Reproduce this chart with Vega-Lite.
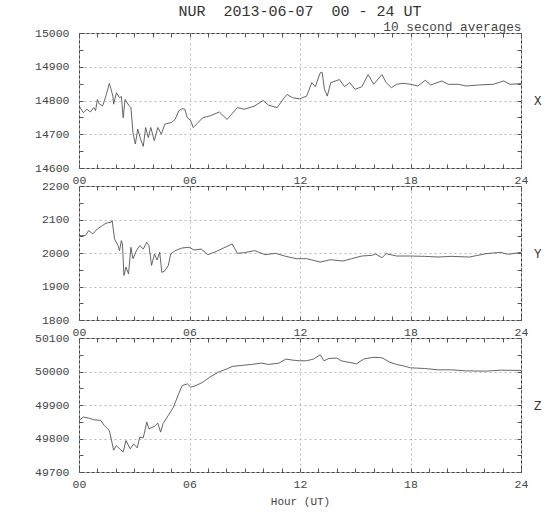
{
  "$schema": "https://vega.github.io/schema/vega-lite/v6.json",
  "background": "white",
  "padding": {"left": 33, "top": 4, "right": 4, "bottom": 5},
  "title": {"text": "NUR\u00a0\u00a02013-06-07\u00a0\u00a000 - 24 UT", "font": "Liberation Mono", "fontSize": 15, "fontWeight": "normal", "color": "#333", "offset": 1, "anchor": "middle", "frame": "group"},
  "datasets": {
    "X": [
      {"h": 0, "v": 14784}, {"h": 0.24, "v": 14764}, {"h": 0.43, "v": 14774}, {"h": 0.62, "v": 14766}, {"h": 0.8, "v": 14779},
      {"h": 0.9, "v": 14770}, {"h": 1.0, "v": 14803}, {"h": 1.1, "v": 14790}, {"h": 1.28, "v": 14784}, {"h": 1.46, "v": 14813},
      {"h": 1.65, "v": 14851}, {"h": 1.84, "v": 14813}, {"h": 1.88, "v": 14789}, {"h": 2.03, "v": 14823}, {"h": 2.2, "v": 14808},
      {"h": 2.3, "v": 14812}, {"h": 2.4, "v": 14749}, {"h": 2.5, "v": 14803}, {"h": 2.7, "v": 14786}, {"h": 2.82, "v": 14779},
      {"h": 2.93, "v": 14705}, {"h": 3.06, "v": 14671}, {"h": 3.19, "v": 14715}, {"h": 3.34, "v": 14686}, {"h": 3.49, "v": 14664},
      {"h": 3.62, "v": 14720}, {"h": 3.76, "v": 14690}, {"h": 3.9, "v": 14720}, {"h": 4.09, "v": 14681}, {"h": 4.28, "v": 14720},
      {"h": 4.47, "v": 14700}, {"h": 4.66, "v": 14730}, {"h": 5.03, "v": 14735}, {"h": 5.22, "v": 14744}, {"h": 5.41, "v": 14769},
      {"h": 5.6, "v": 14776}, {"h": 5.75, "v": 14774}, {"h": 5.88, "v": 14749}, {"h": 6.07, "v": 14740}, {"h": 6.2, "v": 14720},
      {"h": 6.44, "v": 14733}, {"h": 6.72, "v": 14749}, {"h": 7.1, "v": 14754}, {"h": 7.62, "v": 14766}, {"h": 8.04, "v": 14744},
      {"h": 8.6, "v": 14779}, {"h": 8.98, "v": 14774}, {"h": 9.54, "v": 14784}, {"h": 10.0, "v": 14800}, {"h": 10.29, "v": 14786},
      {"h": 10.76, "v": 14779}, {"h": 11.14, "v": 14808}, {"h": 11.3, "v": 14818}, {"h": 11.6, "v": 14808}, {"h": 11.98, "v": 14805},
      {"h": 12.36, "v": 14813}, {"h": 12.64, "v": 14853}, {"h": 12.83, "v": 14841}, {"h": 13.1, "v": 14882}, {"h": 13.2, "v": 14884},
      {"h": 13.33, "v": 14833}, {"h": 13.48, "v": 14813}, {"h": 13.67, "v": 14853}, {"h": 14.14, "v": 14862}, {"h": 14.42, "v": 14841},
      {"h": 14.7, "v": 14853}, {"h": 14.99, "v": 14833}, {"h": 15.36, "v": 14841}, {"h": 15.7, "v": 14877}, {"h": 16.0, "v": 14848},
      {"h": 16.45, "v": 14877}, {"h": 16.68, "v": 14853}, {"h": 16.96, "v": 14838}, {"h": 17.24, "v": 14848}, {"h": 17.6, "v": 14851},
      {"h": 18.0, "v": 14848}, {"h": 18.4, "v": 14843}, {"h": 18.8, "v": 14860}, {"h": 19.1, "v": 14846}, {"h": 19.7, "v": 14858},
      {"h": 20.05, "v": 14848}, {"h": 20.6, "v": 14848}, {"h": 21.0, "v": 14843}, {"h": 21.7, "v": 14846}, {"h": 22.5, "v": 14848},
      {"h": 23.06, "v": 14858}, {"h": 23.4, "v": 14848}, {"h": 24, "v": 14850}
    ],
    "Y": [
      {"h": 0, "v": 2052}, {"h": 0.34, "v": 2052}, {"h": 0.53, "v": 2067}, {"h": 0.75, "v": 2057}, {"h": 1.0, "v": 2072},
      {"h": 1.28, "v": 2082}, {"h": 1.46, "v": 2089}, {"h": 1.75, "v": 2092}, {"h": 1.8, "v": 2097}, {"h": 1.93, "v": 2042},
      {"h": 2.12, "v": 2022}, {"h": 2.2, "v": 2007}, {"h": 2.3, "v": 2037}, {"h": 2.36, "v": 2027}, {"h": 2.44, "v": 1933},
      {"h": 2.55, "v": 1958}, {"h": 2.69, "v": 1938}, {"h": 2.82, "v": 2017}, {"h": 2.93, "v": 1983}, {"h": 3.12, "v": 2007},
      {"h": 3.3, "v": 2022}, {"h": 3.49, "v": 2012}, {"h": 3.68, "v": 2032}, {"h": 3.8, "v": 2022}, {"h": 3.94, "v": 1963},
      {"h": 4.1, "v": 1997}, {"h": 4.24, "v": 1979}, {"h": 4.38, "v": 2002}, {"h": 4.5, "v": 1942}, {"h": 4.66, "v": 1947},
      {"h": 4.85, "v": 1963}, {"h": 4.98, "v": 1997}, {"h": 5.22, "v": 2007}, {"h": 5.6, "v": 2015}, {"h": 5.97, "v": 2017},
      {"h": 6.25, "v": 2009}, {"h": 6.63, "v": 2012}, {"h": 7.0, "v": 1995}, {"h": 7.47, "v": 2005}, {"h": 7.85, "v": 2015},
      {"h": 8.32, "v": 2027}, {"h": 8.6, "v": 1999}, {"h": 8.98, "v": 2001}, {"h": 9.54, "v": 2007}, {"h": 10.1, "v": 1995},
      {"h": 10.67, "v": 1999}, {"h": 11.23, "v": 1990}, {"h": 11.8, "v": 1983}, {"h": 12.36, "v": 1983}, {"h": 13.1, "v": 1973},
      {"h": 13.67, "v": 1980}, {"h": 14.33, "v": 1976}, {"h": 14.8, "v": 1983}, {"h": 15.36, "v": 1991}, {"h": 15.9, "v": 1993},
      {"h": 16.1, "v": 1997}, {"h": 16.45, "v": 1986}, {"h": 16.68, "v": 1998}, {"h": 17.24, "v": 1991}, {"h": 18.0, "v": 1991},
      {"h": 18.75, "v": 1990}, {"h": 19.5, "v": 1988}, {"h": 20.2, "v": 1990}, {"h": 21.2, "v": 1988}, {"h": 22.1, "v": 1998},
      {"h": 22.9, "v": 2002}, {"h": 23.3, "v": 1996}, {"h": 24, "v": 2002}
    ],
    "Z": [
      {"h": 0, "v": 49854}, {"h": 0.24, "v": 49864}, {"h": 0.53, "v": 49861}, {"h": 0.8, "v": 49856}, {"h": 1.18, "v": 49854},
      {"h": 1.37, "v": 49839}, {"h": 1.65, "v": 49824}, {"h": 1.88, "v": 49765}, {"h": 2.03, "v": 49779}, {"h": 2.2, "v": 49769},
      {"h": 2.4, "v": 49760}, {"h": 2.55, "v": 49794}, {"h": 2.78, "v": 49769}, {"h": 2.97, "v": 49784}, {"h": 3.16, "v": 49772},
      {"h": 3.3, "v": 49804}, {"h": 3.49, "v": 49802}, {"h": 3.68, "v": 49849}, {"h": 3.8, "v": 49829}, {"h": 4.09, "v": 49836},
      {"h": 4.28, "v": 49846}, {"h": 4.43, "v": 49819}, {"h": 4.56, "v": 49844}, {"h": 4.85, "v": 49869}, {"h": 5.13, "v": 49894},
      {"h": 5.41, "v": 49933}, {"h": 5.6, "v": 49958}, {"h": 5.88, "v": 49963}, {"h": 6.07, "v": 49953}, {"h": 6.35, "v": 49958},
      {"h": 6.72, "v": 49968}, {"h": 7.1, "v": 49983}, {"h": 7.57, "v": 49998}, {"h": 8.04, "v": 50008}, {"h": 8.32, "v": 50015},
      {"h": 8.79, "v": 50018}, {"h": 9.35, "v": 50021}, {"h": 9.92, "v": 50025}, {"h": 10.29, "v": 50021}, {"h": 10.85, "v": 50025},
      {"h": 11.23, "v": 50037}, {"h": 11.6, "v": 50034}, {"h": 11.98, "v": 50032}, {"h": 12.36, "v": 50032}, {"h": 12.73, "v": 50037},
      {"h": 13.1, "v": 50050}, {"h": 13.3, "v": 50032}, {"h": 13.58, "v": 50039}, {"h": 14.0, "v": 50040}, {"h": 14.23, "v": 50032},
      {"h": 14.6, "v": 50028}, {"h": 15.08, "v": 50023}, {"h": 15.45, "v": 50037}, {"h": 15.92, "v": 50042}, {"h": 16.3, "v": 50042},
      {"h": 16.49, "v": 50040}, {"h": 16.86, "v": 50028}, {"h": 17.24, "v": 50021}, {"h": 17.6, "v": 50017}, {"h": 18.0, "v": 50011},
      {"h": 18.75, "v": 50009}, {"h": 19.5, "v": 50005}, {"h": 20.2, "v": 50005}, {"h": 21.0, "v": 50002}, {"h": 22.1, "v": 50001},
      {"h": 22.9, "v": 50004}, {"h": 24, "v": 50003}
    ]
  },
  "vconcat": [
    {
      "width": 442, "height": 135,
      "data": {"name": "X"},
      "layer": [
        {
          "mark": {"type": "line", "color": "#555", "strokeWidth": 0.9},
          "encoding": {
            "x": {"field": "h", "type": "quantitative", "scale": {"domain": [0, 24], "nice": false},
              "axis": {"orient": "bottom", "title": null, "values": [0,1,2,3,4,5,6,7,8,9,10,11,12,13,14,15,16,17,18,19,20,21,22,23,24],
                "labelExpr": "datum.value % 6 == 0 ? (datum.value < 10 ? '0' + datum.value : '' + datum.value) : ''",
                "gridOpacity": {"condition": {"test": "datum.value % 6 == 0", "value": 1}, "value": 0}}},
            "y": {"field": "v", "type": "quantitative", "scale": {"domain": [14600, 15000], "nice": false, "zero": false},
              "axis": {"orient": "left", "title": null, "format": "d", "values": [14600,14650,14700,14750,14800,14850,14900,14950,15000],
                "labelExpr": "datum.value % 100 == 0 ? datum.label : ''",
                "gridOpacity": {"condition": {"test": "datum.value % 100 == 0", "value": 1}, "value": 0}}}
          }
        },
        {
          "mark": {"type": "line", "opacity": 0},
          "encoding": {
            "x": {"field": "h", "type": "quantitative",
              "axis": {"orient": "top", "title": "10 second averages", "titleAnchor": "end", "titleAlign": "right", "titleBaseline": "bottom", "titlePadding": -1, "titleFontSize": 12.8, "titleFont": "Liberation Mono", "titleFontWeight": "normal", "titleColor": "#444",
                "labels": false, "grid": false, "values": [0,1,2,3,4,5,6,7,8,9,10,11,12,13,14,15,16,17,18,19,20,21,22,23,24]}},
            "y": {"field": "v", "type": "quantitative",
              "axis": {"orient": "right", "title": "X", "labels": false, "grid": false, "values": [14600,14650,14700,14750,14800,14850,14900,14950,15000]}}
          }
        }
      ],
      "resolve": {"axis": {"x": "independent", "y": "independent"}}
    },
    {
      "width": 442, "height": 134,
      "data": {"name": "Y"},
      "layer": [
        {
          "mark": {"type": "line", "color": "#555", "strokeWidth": 0.9},
          "encoding": {
            "x": {"field": "h", "type": "quantitative", "scale": {"domain": [0, 24], "nice": false},
              "axis": {"orient": "bottom", "title": null, "values": [0,1,2,3,4,5,6,7,8,9,10,11,12,13,14,15,16,17,18,19,20,21,22,23,24],
                "labelExpr": "datum.value % 6 == 0 ? (datum.value < 10 ? '0' + datum.value : '' + datum.value) : ''",
                "gridOpacity": {"condition": {"test": "datum.value % 6 == 0", "value": 1}, "value": 0}}},
            "y": {"field": "v", "type": "quantitative", "scale": {"domain": [1800, 2200], "nice": false, "zero": false},
              "axis": {"orient": "left", "title": null, "format": "d", "values": [1800,1850,1900,1950,2000,2050,2100,2150,2200],
                "labelExpr": "datum.value % 100 == 0 ? datum.label : ''",
                "gridOpacity": {"condition": {"test": "datum.value % 100 == 0", "value": 1}, "value": 0}}}
          }
        },
        {
          "mark": {"type": "line", "opacity": 0},
          "encoding": {
            "x": {"field": "h", "type": "quantitative",
              "axis": {"orient": "top", "title": null, "labels": false, "grid": false, "values": [0,1,2,3,4,5,6,7,8,9,10,11,12,13,14,15,16,17,18,19,20,21,22,23,24]}},
            "y": {"field": "v", "type": "quantitative",
              "axis": {"orient": "right", "title": "Y", "labels": false, "grid": false, "values": [1800,1850,1900,1950,2000,2050,2100,2150,2200]}}
          }
        }
      ],
      "resolve": {"axis": {"x": "independent", "y": "independent"}}
    },
    {
      "width": 442, "height": 134,
      "data": {"name": "Z"},
      "layer": [
        {
          "mark": {"type": "line", "color": "#555", "strokeWidth": 0.9},
          "encoding": {
            "x": {"field": "h", "type": "quantitative", "scale": {"domain": [0, 24], "nice": false},
              "axis": {"orient": "bottom", "title": "Hour (UT)", "values": [0,1,2,3,4,5,6,7,8,9,10,11,12,13,14,15,16,17,18,19,20,21,22,23,24],
                "labelExpr": "datum.value % 6 == 0 ? (datum.value < 10 ? '0' + datum.value : '' + datum.value) : ''",
                "gridOpacity": {"condition": {"test": "datum.value % 6 == 0", "value": 1}, "value": 0}}},
            "y": {"field": "v", "type": "quantitative", "scale": {"domain": [49700, 50100], "nice": false, "zero": false},
              "axis": {"orient": "left", "title": null, "format": "d", "values": [49700,49750,49800,49850,49900,49950,50000,50050,50100],
                "labelExpr": "datum.value % 100 == 0 ? datum.label : ''",
                "gridOpacity": {"condition": {"test": "datum.value % 100 == 0", "value": 1}, "value": 0}}}
          }
        },
        {
          "mark": {"type": "line", "opacity": 0},
          "encoding": {
            "x": {"field": "h", "type": "quantitative",
              "axis": {"orient": "top", "title": null, "labels": false, "grid": false, "values": [0,1,2,3,4,5,6,7,8,9,10,11,12,13,14,15,16,17,18,19,20,21,22,23,24]}},
            "y": {"field": "v", "type": "quantitative",
              "axis": {"orient": "right", "title": "Z", "labels": false, "grid": false, "values": [49700,49750,49800,49850,49900,49950,50000,50050,50100]}}
          }
        }
      ],
      "resolve": {"axis": {"x": "independent", "y": "independent"}}
    }
  ],
  "spacing": 18,
  "bounds": "flush",
  "config": {
    "view": {"stroke": "#444", "strokeWidth": 1},
    "style": {
      "guide-label": {"font": "Liberation Mono"},
      "guide-title": {"font": "Liberation Mono"},
      "group-title": {"font": "Liberation Mono"}
    },
    "axis": {
      "domain": false, "ticks": true, "tickSize": -4, "tickColor": "#555", "tickWidth": 1,
      "grid": true, "gridColor": "#bbb", "gridDash": [2, 3], "gridWidth": 1,
      "labelFont": "Liberation Mono", "labelFontSize": 11.5, "labelColor": "#444", "labelPadding": 14,
      "labelFlush": false, "labelOverlap": false,
      "titleFont": "Liberation Mono", "titleFontSize": 11, "titleFontWeight": "normal", "titleColor": "#444"
    },
    "axisX": {"labelPadding": 10},
    "axisRight": {"titleAngle": 0, "titleAlign": "left", "titleBaseline": "middle", "titlePadding": 12, "titleFontSize": 12.5, "titleColor": "#333"},
    "axisBottom": {"titlePadding": 6}
  }
}
